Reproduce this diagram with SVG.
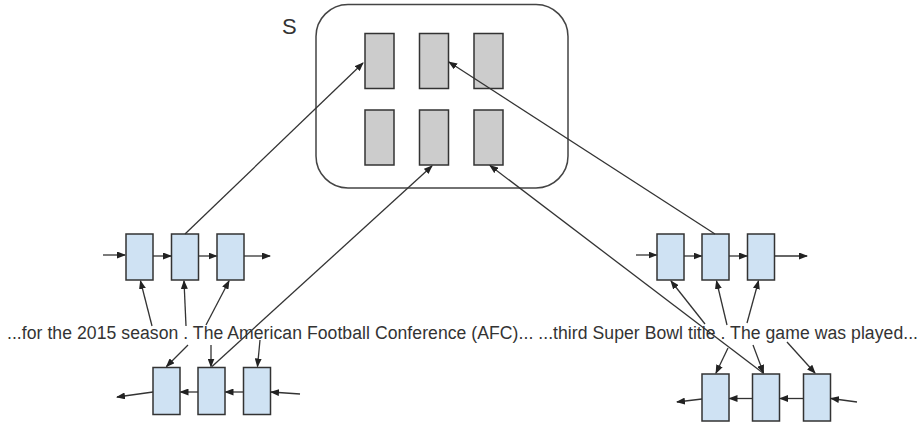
<svg xmlns="http://www.w3.org/2000/svg" width="922" height="423" viewBox="0 0 922 423">
<style>
.cell{fill:#cfe2f3;stroke:#333;stroke-width:1.5}
.mem{fill:#cccccc;stroke:#333;stroke-width:1.5}
.edge{stroke:#333;stroke-width:1.3;fill:none;marker-end:url(#ah)}
.lbl{font-family:"Liberation Sans",Arial,sans-serif;fill:#333}
</style>
<defs>
<marker id="ah" markerUnits="userSpaceOnUse" markerWidth="9" markerHeight="7" refX="8" refY="3.5" orient="auto">
<path d="M0,0 L9,3.5 L0,7 z" fill="#222"/>
</marker>
</defs>
<rect width="922" height="423" fill="#fff"/>
<g id="memory">
<rect x="316" y="4.5" width="252" height="183.5" rx="32" fill="none" stroke="#444" stroke-width="1.5"/>
<text class="lbl" x="282" y="34" font-size="22">S</text>
<rect class="mem" x="365" y="33.5" width="29" height="55"/>
<rect class="mem" x="419.5" y="33.5" width="29" height="55"/>
<rect class="mem" x="474" y="33.5" width="29" height="55"/>
<rect class="mem" x="365" y="110" width="29" height="55"/>
<rect class="mem" x="419.5" y="110" width="29" height="55"/>
<rect class="mem" x="474" y="110" width="29" height="55"/>
</g>
<g id="left-forward">
<rect class="cell" x="126" y="234" width="27" height="46"/>
<rect class="cell" x="171.5" y="234" width="27" height="46"/>
<rect class="cell" x="217" y="234" width="27" height="46"/>
</g>
<g id="left-backward">
<rect class="cell" x="153" y="367.5" width="27" height="47"/>
<rect class="cell" x="198" y="367.5" width="27" height="47"/>
<rect class="cell" x="243.5" y="367.5" width="27" height="47"/>
</g>
<g id="right-forward">
<rect class="cell" x="657" y="234" width="27" height="46"/>
<rect class="cell" x="702" y="234" width="27" height="46"/>
<rect class="cell" x="747.5" y="234" width="27" height="46"/>
</g>
<g id="right-backward">
<rect class="cell" x="702" y="374" width="27" height="47"/>
<rect class="cell" x="752.5" y="374" width="27" height="47"/>
<rect class="cell" x="803.5" y="374" width="27" height="47"/>
</g>
<g id="text">
<text class="lbl" x="7" y="339" font-size="17.6" textLength="911" lengthAdjust="spacing">...for the 2015 season . The American Football Conference (AFC)... ...third Super Bowl title . The game was played...</text>
</g>
<g id="connectors">
<line class="edge" x1="103" y1="255" x2="125" y2="255"/>
<line class="edge" x1="153" y1="256" x2="171" y2="256"/>
<line class="edge" x1="198.5" y1="256" x2="216.5" y2="256"/>
<line class="edge" x1="244" y1="256" x2="270" y2="256"/>
<line class="edge" x1="300" y1="394" x2="271" y2="392"/>
<line class="edge" x1="243.5" y1="392" x2="225.5" y2="392"/>
<line class="edge" x1="198" y1="392" x2="180.5" y2="392"/>
<line class="edge" x1="153" y1="392" x2="117" y2="397"/>
<line class="edge" x1="636" y1="255" x2="656.5" y2="255"/>
<line class="edge" x1="684" y1="256" x2="701.5" y2="256"/>
<line class="edge" x1="729" y1="256" x2="747" y2="256"/>
<line class="edge" x1="774.5" y1="256" x2="807" y2="256"/>
<line class="edge" x1="857" y1="402" x2="831" y2="398.5"/>
<line class="edge" x1="803.5" y1="398.5" x2="780" y2="398.5"/>
<line class="edge" x1="752.5" y1="398.5" x2="729.5" y2="398.5"/>
<line class="edge" x1="702" y1="399" x2="677" y2="402"/>
<line class="edge" x1="152" y1="326" x2="140.5" y2="281"/>
<line class="edge" x1="186" y1="326" x2="184" y2="281"/>
<line class="edge" x1="206" y1="325" x2="229" y2="281"/>
<line class="edge" x1="188" y1="345" x2="166.5" y2="366.5"/>
<line class="edge" x1="211" y1="345" x2="211" y2="366.5"/>
<line class="edge" x1="260" y1="340" x2="257.5" y2="366.5"/>
<line class="edge" x1="185" y1="234" x2="363" y2="63"/>
<line class="edge" x1="212" y1="366.5" x2="432" y2="166"/>
<line class="edge" x1="715" y1="234" x2="449" y2="62"/>
<line class="edge" x1="763" y1="373" x2="490" y2="165.5"/>
<line class="edge" x1="705" y1="324" x2="671" y2="281"/>
<line class="edge" x1="727" y1="325" x2="716.5" y2="281"/>
<line class="edge" x1="747" y1="323" x2="758.5" y2="281"/>
<line class="edge" x1="728" y1="348" x2="716" y2="373"/>
<line class="edge" x1="753" y1="345" x2="763.5" y2="373"/>
<line class="edge" x1="787" y1="342" x2="815" y2="373"/>
</g>
</svg>
